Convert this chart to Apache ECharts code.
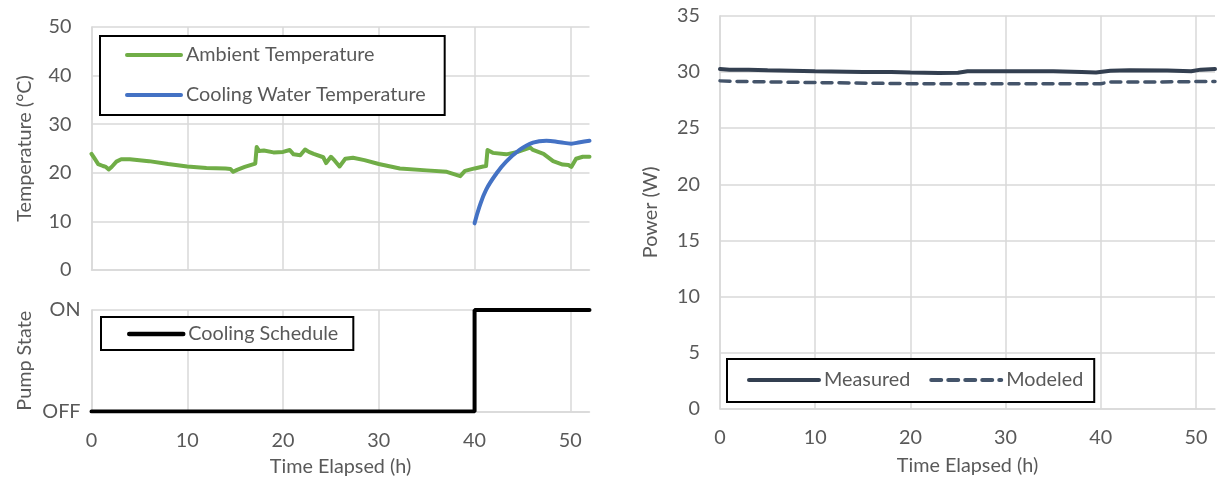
<!DOCTYPE html>
<html>
<head>
<meta charset="utf-8">
<script src="https://cdn.jsdelivr.net/npm/echarts@6/dist/echarts.min.js"></script>
<style>
html,body{margin:0;padding:0;background:#fff;}
#c{width:1218px;height:483px;}
</style>
</head>
<body>
<div id="c"></div>
<script>
// ---- data ----
const ambientTemp = [[0,23.9],[0.3,23.0],[0.7,21.8],[1.2,21.4],[1.5,21.2],[1.8,20.7],[2.1,21.2],[2.6,22.3],[3.1,22.8],[4,22.8],[6,22.4],[8,21.8],[10,21.3],[12,21.0],[14,20.9],[14.5,20.8],[14.8,20.2],[15.2,20.6],[16,21.2],[17.1,21.9],[17.25,25.3],[17.5,24.5],[18,24.6],[19,24.2],[20,24.3],[20.7,24.7],[21.1,23.8],[21.8,23.6],[22.3,24.8],[22.7,24.3],[23.2,23.9],[24.2,23.2],[24.5,22.0],[25,23.3],[25.4,22.5],[25.9,21.3],[26.5,22.9],[27.3,23.1],[28.5,22.6],[30,21.8],[32.2,20.9],[35,20.5],[37.1,20.2],[38.5,19.3],[39,20.4],[40,20.9],[40.9,21.3],[41.2,21.4],[41.35,24.7],[41.9,24.1],[43.3,23.8],[44.5,24.3],[45.8,25.2],[46.1,24.7],[47.2,23.9],[48.2,22.4],[49.2,21.7],[49.8,21.6],[50.1,21.2],[50.6,22.9],[51.3,23.3],[52,23.3]];
const coolingWaterTemp = [[40,9.6],[40.5,13.0],[41.2,16.5],[42.3,19.9],[43.3,22.3],[44.7,24.7],[46.1,26.2],[47.5,26.6],[48.9,26.3],[50.1,26.0],[51,26.3],[52,26.6]];
const coolingSchedule = [[0,0],[40,0],[40,1],[52,1]];
const pumpStateLabels = ['OFF','ON'];
const measuredPower = [[0,30.25],[1,30.2],[3,30.2],[5,30.15],[10,30.05],[15,30.0],[18,30.0],[20,29.95],[23,29.9],[25,29.92],[26,30.05],[30,30.05],[35,30.05],[38,30.0],[39.5,29.95],[41,30.1],[43,30.15],[47,30.12],[49.5,30.05],[50.5,30.2],[52,30.25]];
const modeledPower = [[0,29.2],[2,29.15],[10,29.05],[20,28.95],[30,28.95],[40,28.95],[41,29.1],[45,29.1],[52,29.15]];

// ---- styling ----
const FONT = 'Lato';
const TXT = '#595959';
const GRID = '#d9d9d9';
const FS = 19.8;

function xAxisCfg(gridIndex, showLabels, nameGap) {
  return {
    type: 'value', gridIndex, min: 0, max: 52, interval: 10,
    name: showLabels ? 'Time Elapsed (h)' : '',
    nameLocation: 'middle', nameGap: nameGap,
    nameTextStyle: {color: TXT, fontFamily: FONT, fontSize: FS},
    axisLine: {show: true, lineStyle: {color: GRID, width: 1.5}},
    axisTick: {show: false},
    axisLabel: {show: showLabels, color: TXT, fontFamily: FONT, fontSize: FS, margin: 19,
      formatter: v => (v % 10 === 0 ? String(v) : '')},
    splitLine: {show: true, showMaxLine: false, lineStyle: {color: GRID, width: 1.5}}
  };
}
function yAxisCfg(gridIndex, min, max, interval, name, nameGap, margin, fmt) {
  return {
    type: 'value', gridIndex, min, max, interval,
    name, nameLocation: 'middle', nameGap,
    nameTextStyle: {color: TXT, fontFamily: FONT, fontSize: FS},
    axisLine: {show: true, lineStyle: {color: GRID, width: 1.5}},
    axisTick: {show: false},
    axisLabel: {color: TXT, fontFamily: FONT, fontSize: FS, margin, formatter: fmt},
    splitLine: {show: true, lineStyle: {color: GRID, width: 1.5}}
  };
}
const legendBase = {
  backgroundColor: '#fff', borderColor: '#000', borderWidth: 2,
  itemHeight: 14,
  itemStyle: {color: 'rgba(0,0,0,0)', opacity: 0, borderWidth: 0},
  textStyle: {color: TXT, fontFamily: FONT, fontSize: FS, lineHeight: 20},
  selectedMode: false
};

const option = {
  backgroundColor: '#fff',
  animation: false,
  grid: [
    {left: 91.5, top: 27, width: 498, height: 243},
    {left: 91.5, top: 310, width: 498, height: 101.5},
    {left: 720, top: 15.7, width: 498, height: 393.3}
  ],
  xAxis: [
    xAxisCfg(0, false, 0),
    xAxisCfg(1, true, 45),
    xAxisCfg(2, true, 47)
  ],
  yAxis: [
    yAxisCfg(0, 0, 50, 10, 'Temperature (°C)', 57, 20),
    yAxisCfg(1, 0, 1, 1, 'Pump State', 57, 11, v => pumpStateLabels[v] || ''),
    yAxisCfg(2, 0, 35, 5, 'Power (W)', 59, 20)
  ],
  legend: [
    Object.assign({}, legendBase, {
      data: ['Ambient Temperature', 'Cooling Water Temperature'],
      orient: 'vertical', left: 100, top: 36, itemWidth: 54, itemGap: 20,
      padding: [9, 19, 10, 25],
      lineStyle: {width: 4, cap: 'round'}
    }),
    Object.assign({}, legendBase, {
      data: ['Cooling Schedule'],
      orient: 'vertical', left: 101, top: 317, itemWidth: 54,
      padding: [7, 15, 6, 26],
      lineStyle: {width: 4.5, cap: 'round'}
    }),
    Object.assign({}, legendBase, {
      data: ['Measured', 'Modeled'],
      orient: 'horizontal', left: 727, top: 359, itemWidth: 70, itemGap: 19,
      padding: [11, 11, 12, 20],
      lineStyle: {width: 4, cap: 'round'}
    })
  ],
  series: [
    {name: 'Ambient Temperature', type: 'line', xAxisIndex: 0, yAxisIndex: 0,
     data: ambientTemp, symbol: 'none', color: '#70ad47',
     lineStyle: {width: 4, color: '#70ad47', join: 'round', cap: 'round'}},
    {name: 'Cooling Water Temperature', type: 'line', xAxisIndex: 0, yAxisIndex: 0,
     data: coolingWaterTemp, symbol: 'none', smooth: 0.4, color: '#4472c4',
     lineStyle: {width: 4, color: '#4472c4', cap: 'round'}},
    {name: 'Cooling Schedule', type: 'line', xAxisIndex: 1, yAxisIndex: 1,
     data: coolingSchedule, symbol: 'none', color: '#000',
     lineStyle: {width: 4, color: '#000', cap: 'round'}},
    {name: 'Measured', type: 'line', xAxisIndex: 2, yAxisIndex: 2,
     data: measuredPower, symbol: 'none', color: '#333f50',
     lineStyle: {width: 4, color: '#333f50', cap: 'round'}},
    {name: 'Modeled', type: 'line', xAxisIndex: 2, yAxisIndex: 2,
     data: modeledPower, symbol: 'none', color: '#44546a',
     lineStyle: {width: 3.5, color: '#44546a', type: [10, 7], cap: 'round'}}
  ]
};
const chart = echarts.init(document.getElementById('c'), null, {renderer: 'canvas'});
chart.setOption(option);
</script>
</body>
</html>
